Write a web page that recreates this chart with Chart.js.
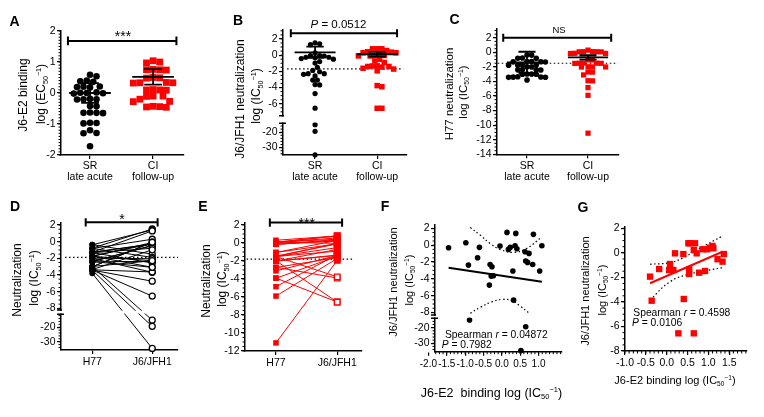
<!DOCTYPE html>
<html><head><meta charset="utf-8">
<script src="https://cdn.jsdelivr.net/npm/chart.js@4.4.1/dist/chart.umd.min.js"></script>
<style>
html,body{margin:0;padding:0;background:#fff;}
#wrap{position:relative;width:764px;height:417px;overflow:hidden;font-family:"Liberation Sans",Arial,Helvetica,sans-serif;color:#000;}
#wrap canvas{position:absolute;left:0;top:0;}
#txt{position:absolute;left:0;top:0;width:764px;height:417px;z-index:10;}
.t{position:absolute;white-space:nowrap;line-height:1;}
.lab{font-weight:bold;font-size:14px;transform:translate(-50%,-50%);}
.rot{transform:translate(-50%,-50%) rotate(-90deg);font-size:12px;}
.c{transform:translate(-50%,-50%);}
.cx{transform:translateX(-50%);}
.l{transform:translateY(-50%);}
.sb{font-size:0.6em;position:relative;top:0.35em;}
.sp{font-size:0.6em;position:relative;top:-0.6em;}
</style></head><body>
<div id="wrap">
<div id="txt">
<div class="t lab" style="left:14.5px;top:20.5px">A</div>
<div class="t lab" style="left:238px;top:19.5px">B</div>
<div class="t lab" style="left:454.5px;top:19px">C</div>
<div class="t lab" style="left:15px;top:206px">D</div>
<div class="t lab" style="left:203px;top:206px">E</div>
<div class="t lab" style="left:385px;top:206px">F</div>
<div class="t lab" style="left:583px;top:206.5px">G</div>

<div class="t rot" style="left:23px;top:95px">J6-E2 binding</div>
<div class="t rot" style="left:41px;top:94px">log (EC<span class="sb">50</span><span class="sp">−1</span>)</div>
<div class="t rot" style="left:240px;top:99px">J6/JFH1 neutralization</div>
<div class="t rot" style="left:256px;top:96px">log (IC<span class="sb">50</span><span class="sp">−1</span>)</div>
<div class="t rot" style="left:450px;top:94px;font-size:11.5px">H77 neutralization</div>
<div class="t rot" style="left:464px;top:92px;font-size:11.5px">log (IC<span class="sb">50</span><span class="sp">−1</span>)</div>
<div class="t rot" style="left:17px;top:280px">Neutralization</div>
<div class="t rot" style="left:34px;top:278px">log (IC<span class="sb">50</span><span class="sp">−1</span>)</div>
<div class="t rot" style="left:206px;top:281px">Neutralization</div>
<div class="t rot" style="left:222px;top:279px">log (IC<span class="sb">50</span><span class="sp">−1</span>)</div>
<div class="t rot" style="left:393px;top:282px;font-size:11px">J6/JFH1 neutralization</div>
<div class="t rot" style="left:408.5px;top:280px;font-size:11px">log (IC<span class="sb">50</span><span class="sp">−1</span>)</div>
<div class="t rot" style="left:585px;top:291px;font-size:11px">J6/JFH1 neutralization</div>
<div class="t rot" style="left:602px;top:290px;font-size:11px">log (IC<span class="sb">50</span><span class="sp">−1</span>)</div>

<div class="t c" style="left:491.5px;top:392.5px;font-size:12.5px">J6-E2&nbsp; binding log (IC<span class="sb">50</span><span class="sp">−1</span>)</div>
<div class="t c" style="left:675px;top:380px;font-size:11px">J6-E2 binding log (IC<span class="sb">50</span><span class="sp">−1</span>)</div>

<div class="t cx" style="left:123px;top:29.4px;font-size:14px">***</div>
<div class="t c" style="left:338.5px;top:25px;font-size:11.5px"><i>P</i> = 0.0512</div>
<div class="t c" style="left:559px;top:30px;font-size:9.5px">NS</div>
<div class="t cx" style="left:122px;top:211.6px;font-size:14px">*</div>
<div class="t cx" style="left:306.7px;top:216.4px;font-size:14px">***</div>

<div class="t l" style="left:445px;top:335px;font-size:10.3px">Spearman <i>r</i> = 0.04872</div>
<div class="t l" style="left:441.7px;top:345px;font-size:10.3px"><i>P</i> = 0.7982</div>
<div class="t l" style="left:633.3px;top:312.7px;font-size:10.3px">Spearman <i>r</i> = 0.4598</div>
<div class="t l" style="left:632px;top:323.3px;font-size:10.3px"><i>P</i> = 0.0106</div>
</div>
</div>
<script>
// ---------------- DATA ----------------
const catLabels = [['SR', 'late acute'], ['CI', 'follow-up']];
const pairLabels = ['H77', 'J6/JFH1'];

const yTicksA = [2, 1, 0, -1, -2];
const yTicksB = [2, 0, -2, -4, -6, -20, -30];
const yTicksC = [2, 0, -2, -4, -6, -8, -10, -12, -14];
const yTicksD = [2, 0, -2, -4, -6, -8, -20, -30];
const yTicksE = [2, 0, -2, -4, -6, -8, -10, -12];
const yTicksF = [2, 0, -2, -4, -6, -8, -20, -30];
const yTicksG = [2, 0, -2, -4, -6, -8];
const xTicksF = [-2.0, -1.5, -1.0, -0.5, 0.0, 0.5, 1.0];
const xTicksG = [-1.0, -0.5, 0.0, 0.5, 1.0, 1.5];

// A: J6-E2 binding log(EC50^-1)
const srBinding = [0.59, 0.54, 0.38, 0.36, 0.40, 0.20, 0.18, 0.19, 0.21, 0.00, 0.01, -0.01, 0.02, -0.02,
  -0.20, -0.19, -0.21, -0.20, -0.43, -0.42, -0.64, -0.63, -0.65, -0.64, -0.97, -0.98, -0.96, -1.20, -1.30, -1.29, -1.72];
const ciBinding = [1.04, 1.00, 0.97, 0.75, 0.76, 0.74, 0.75, 0.50, 0.49, 0.48, 0.33, 0.34, 0.32, 0.33,
  0.10, 0.11, 0.09, 0.10, -0.10, -0.10, -0.11, -0.27, -0.28, -0.43, -0.44, -0.45, -0.46, -0.20];

// SR subjects (same order in B, C, D, F)
const srJ6 = [-0.31, 0.29, -2.37, -0.26, -1.50, -2.29, -2.57, -3.68, -3.64, -4.75, -0.11, 1.52, -0.50, -0.26, -3.08,
  1.40, -0.07, -0.43, -0.79, -0.98, -1.89, -2.05, 1.29, -2.29, -3.08, -0.07, -6.54, -15.1, -19.4, -34.7];
const srH77 = [-1.28, -0.82, -2.42, -1.72, -0.36, -2.98, -1.31, -2.02, -3.38, -3.42, -1.77, -0.78, -2.38, -1.29, -1.74,
  -0.38, -3.02, -2.41, -1.33, -3.36, -0.81, -1.98, -1.27, -1.76, -2.39, -3.01, -3.41, -2.99, -3.44, -3.80];
const srBindingIC = [-1.45, -0.98, -0.91, -0.61, -0.66, -0.32, -0.27, -0.29, -0.23, -0.34, -0.05, 0.14, 0.18, 0.23, 0.30,
  0.38, 0.36, 0.41, 0.63, 0.74, 0.65, 0.70, 0.86, 0.84, 1.03, 1.09, 0.32, -0.88, 0.65, 0.52];

// CI subjects (same order in B, C, E, G)
const ciJ6 = [-1.94, -3.90, -1.32, -1.40, -0.91, -1.40, -0.04, -0.10, -3.76, 0.78, 0.78, -1.34, -1.72, 0.78,
  0.23, -0.04, -1.62, -6.56, -6.56, 0.29, -1.48, 0.29, 0.42, 0.56, 0.37, -0.52, -0.72, -0.10];
const ciH77 = [-11.1, -2.70, -4.85, -2.00, -1.50, -3.10, 0.08, -1.05, -1.52, 0.30, 0.07, -2.02, -5.90, 0.09,
  -0.15, -1.48, -2.72, -3.90, -1.98, -0.14, -3.92, -1.06, 0.08, 0.06, -0.16, -1.51, -2.01, -1.49];
const ciBindingIC = [-0.40, -0.36, -0.18, 0.06, 0.08, 0.16, 0.20, 0.40, 0.41, 0.52, 0.56, 0.54, 0.54, 0.68,
  0.65, 0.72, 0.78, 0.28, 0.65, 0.86, 0.92, 0.97, 1.04, 1.10, 1.12, 1.22, 1.34, 1.37];

// summary statistics (centre line and error bar half-length), cut-offs
const meanA = [0.00, 0.52], errA = [0.32, 0.25];
const meanB = [0.35, 0.11], errB = [0.70, 0.30];
const meanC = [-1.38, -0.70], errC = [1.46, 0.30];
const cutoffB = -1.7, cutoffC = -1.5, cutoffD = -1.88, cutoffE = -1.8;

// regression lines and 95% bands
const fitFx = [-1.45, 1.09], fitFy = [-2.69, -4.36];
const bandFupX = [-0.86, -0.59, -0.32, -0.05, 0.32, 0.68, 1.09], bandFupY = [2.1, 1.2, 0.21, -0.5, -0.86, -0.38, 1.0];
const bandFloX = [-0.86, -0.59, -0.27, 0.0, 0.27, 0.5, 0.72], bandFloY = [-8.1, -7.4, -6.74, -6.45, -6.6, -7.25, -8.0];
const fitGx = [-0.40, 1.34], fitGy = [-2.48, 0.09];
const bandGupX = [-0.40, 0.08, 0.40, 0.72, 1.34], bandGupY = [-0.93, -0.80, -0.40, 0.23, 1.37];
const bandGloX = [-0.40, 0.08, 0.56, 1.34], bandGloY = [-3.84, -2.35, -1.72, -1.21];

// ---------------- helpers ----------------
const W = 764, H = 417;
const FONT = '"Liberation Sans", Arial, Helvetica, sans-serif';
const RED = '#ff0000';
const ident = v => v;
function brokenT(U0, gapU, Lt, r) { return v => v >= U0 ? v : U0 - gapU - (Lt - v) * r; }

function seg(polys) {
  const out = [];
  polys.forEach((pl, i) => {
    if (i) out.push({ x: pl[0][0], y: null });
    pl.forEach(([x, y]) => out.push({ x, y }));
  });
  return out;
}
function lineDS(polys, color, width, dash, more) {
  return Object.assign({ data: seg(polys), showLine: true, spanGaps: false, borderColor: color, borderWidth: width,
    borderDash: dash || [], pointRadius: 0, pointHoverRadius: 0, fill: false, clip: false, tension: 0 }, more || {});
}
function ptsDS(pts, style, r, bg, bc, bw) {
  return { data: pts, showLine: false, pointStyle: style, pointRadius: r, pointHoverRadius: r,
    pointBackgroundColor: bg, backgroundColor: bg, pointBorderColor: bc, borderColor: bc,
    pointBorderWidth: bw, borderWidth: bw, clip: false };
}
function swarm(vals, center, pxX, pxY, d) {
  const order = vals.map((v, i) => i).sort((a, b) => vals[b] - vals[a]);
  const placed = [], xs = new Array(vals.length), step = d * 0.5;
  for (const i of order) {
    const py = vals[i] * pxY;
    let off = 0;
    for (let k = 0; k < 400; k++) {
      const cand = k === 0 ? 0 : (k % 2 ? 1 : -1) * Math.ceil(k / 2) * step;
      if (placed.every(p => (p.x - cand) ** 2 + (p.y - py) ** 2 >= d * d * 0.97)) { off = cand; break; }
    }
    placed.push({ x: off, y: py });
    xs[i] = center + off / pxX;
  }
  return xs;
}
function meanPolys(c, m, e) {
  return [[[c - 0.33, m], [c + 0.33, m]], [[c, m - e], [c, m + e]],
    [[c - 0.14, m + e], [c + 0.14, m + e]], [[c - 0.14, m - e], [c + 0.14, m - e]]];
}
function sigPolys(x1, x2, yb, h) {
  return [[[x1, yb - h], [x1, yb + h]], [[x1, yb], [x2, yb]], [[x2, yb - h], [x2, yb + h]]];
}
function range(lo, hi, st) { const o = []; const n = Math.round((hi - lo) / st); for (let i = 0; i <= n; i++) o.push(lo + i * st); return o; }

function makeChart(p, layers) {
  const cv = document.createElement('canvas');
  cv.width = W; cv.height = H; cv.style.width = W + 'px'; cv.style.height = H + 'px';
  document.getElementById('wrap').insertBefore(cv, document.getElementById('txt'));
  const a = p.area, T = p.T || ident;
  const deco = {
    id: 'deco',
    afterDraw(chart) {
      const ctx = chart.ctx, ca = chart.chartArea, xs = chart.scales.x, ys = chart.scales.y;
      ctx.save();
      ctx.strokeStyle = '#000'; ctx.lineWidth = 1;
      (p.minorY || []).forEach(([lo, hi, st]) => {
        range(lo, hi, st).forEach(v => {
          const py = ys.getPixelForValue(T(v));
          ctx.beginPath(); ctx.moveTo(ca.left - 2.5, py); ctx.lineTo(ca.left, py); ctx.stroke();
        });
      });
      if (p.minorX) {
        const [lo, hi, st] = p.minorX;
        range(lo, hi, st).forEach(v => {
          const px = xs.getPixelForValue(v);
          ctx.beginPath(); ctx.moveTo(px, ca.bottom); ctx.lineTo(px, ca.bottom + 2.5); ctx.stroke();
        });
      }
      if (p.gap) {
        const y1 = ys.getPixelForValue(p.gap.U0), y2 = ys.getPixelForValue(T(p.gap.Lt));
        ctx.fillStyle = '#fff';
        ctx.fillRect(ca.left - 8, y1 + 0.8, ca.right - ca.left + 10, y2 - y1 - 1.6);
        ctx.lineWidth = 1.5;
        ctx.beginPath();
        ctx.moveTo(ca.left - 4, y1); ctx.lineTo(ca.left + 1, y1);
        ctx.moveTo(ca.left - 4, y2); ctx.lineTo(ca.left + 3, y2);
        ctx.stroke();
      }
      ctx.restore();
    }
  };
  const gridOpt = { display: true, drawOnChartArea: false, drawTicks: true, tickLength: 4, color: '#000', lineWidth: 1.2 };
  const borderOpt = { display: true, color: '#000', width: 1.5 };
  return new Chart(cv, {
    type: 'scatter',
    data: { datasets: layers.slice().reverse() },
    options: {
      responsive: false, animation: false, events: [], devicePixelRatio: 1,
      layout: { padding: { left: a.l - 45, top: a.t, right: W - a.r, bottom: H - a.b - 40 } },
      plugins: { legend: { display: false }, tooltip: { enabled: false } },
      scales: {
        x: {
          type: 'linear', position: 'bottom', min: p.xMin, max: p.xMax, bounds: 'data',
          afterFit: s => { s.height = 40; },
          afterBuildTicks: s => { s.ticks = p.xTicks.map(v => ({ value: v })); },
          ticks: { autoSkip: false, maxRotation: 0, minRotation: 0, color: '#000', padding: p.xPad || 2,
            font: { family: FONT, size: p.xFont || 10.5, lineHeight: 1.05 }, callback: (v, i) => p.xLabels[i] },
          grid: gridOpt, border: borderOpt
        },
        y: {
          type: 'linear', position: 'left', min: p.yMin, max: p.yMax, bounds: 'data',
          afterFit: s => { s.width = 45; },
          afterBuildTicks: s => { s.ticks = p.yTicks.map(v => ({ value: T(v) })); },
          ticks: { autoSkip: false, color: '#000', padding: 1.5, font: { family: FONT, size: 10.5 },
            callback: (v, i) => String(p.yTicks[i]) },
          grid: gridOpt, border: borderOpt
        }
      }
    },
    plugins: [deco]
  });
}
function factors(p) {
  return { pxX: (p.area.r - p.area.l) / (p.xMax - p.xMin), pxY: (p.area.b - p.area.t) / (p.yMax - p.yMin) };
}

// ---------------- Panel A ----------------
(function () {
  const p = { area: { l: 61, t: 31, r: 184, b: 155 }, xMin: 0.54, xMax: 2.49, yMin: -2, yMax: 2,
    xTicks: [1, 2], xLabels: catLabels, yTicks: yTicksA, minorY: [[-2, 2, 0.1]] };
  const f = factors(p);
  const xs1 = swarm(srBinding, 1, f.pxX, f.pxY, 6.5), xs2 = swarm(ciBinding, 2, f.pxX, f.pxY, 6.6);
  makeChart(p, [
    lineDS(sigPolys(0.65, 2.37, 1.68, 0.14), '#000', 2),
    ptsDS(srBinding.map((v, i) => ({ x: xs1[i], y: v })), 'circle', 3.3, '#000', '#000', 0),
    ptsDS(ciBinding.map((v, i) => ({ x: xs2[i], y: v })), 'rect', 4.8, RED, RED, 0),
    lineDS(meanPolys(1, meanA[0], errA[0]).concat(meanPolys(2, meanA[1], errA[1])), '#000', 1.8)
  ]);
})();

// ---------------- Panel B ----------------
(function () {
  const T = brokenT(-7.47, 0.94, -14.2, 0.19);
  const p = { area: { l: 283, t: 30, r: 407, b: 155 }, xMin: 0.484, xMax: 2.48, yMin: T(-34.8), yMax: 3.1, T,
    xTicks: [1, 2], xLabels: catLabels, yTicks: yTicksB, gap: { U0: -7.47, Lt: -14.2 },
    minorY: [[-7, 3, 0.5], [-34, -16, 2]] };
  const f = factors(p);
  const v1 = srJ6.map(T), v2 = ciJ6.map(T);
  const xs1 = swarm(v1, 1, f.pxX, f.pxY, 4.6), xs2 = swarm(v2, 2, f.pxX, f.pxY, 4.7);
  makeChart(p, [
    lineDS(sigPolys(0.61, 2.32, 2.7, 0.5), '#000', 2),
    lineDS([[[0.55, cutoffB], [2.42, cutoffB]]], '#000', 1.2, [1.5, 2.5]),
    ptsDS(v1.map((v, i) => ({ x: xs1[i], y: v })), 'circle', 2.6, '#000', '#000', 0),
    ptsDS(v2.map((v, i) => ({ x: xs2[i], y: v })), 'rect', 3.9, RED, RED, 0),
    lineDS(meanPolys(1, meanB[0], errB[0]).concat(meanPolys(2, meanB[1], errB[1])), '#000', 1.8)
  ]);
})();

// ---------------- Panel C ----------------
(function () {
  const p = { area: { l: 497, t: 29, r: 619, b: 154.3 }, xMin: 0.508, xMax: 2.508, yMin: -14, yMax: 3.2,
    xTicks: [1, 2], xLabels: catLabels, yTicks: yTicksC, minorY: [[-14, 3, 0.5]] };
  const f = factors(p);
  const xs1 = swarm(srH77, 1, f.pxX, f.pxY, 4.6), xs2 = swarm(ciH77, 2, f.pxX, f.pxY, 4.4);
  makeChart(p, [
    lineDS(sigPolys(0.61, 2.38, 2.0, 0.55), '#000', 2),
    lineDS([[[0.52, cutoffC], [2.49, cutoffC]]], '#000', 1.2, [1.5, 2.5]),
    ptsDS(srH77.map((v, i) => ({ x: xs1[i], y: v })), 'circle', 2.8, '#000', '#000', 0),
    ptsDS(ciH77.map((v, i) => ({ x: xs2[i], y: v })), 'rect', 3.7, RED, RED, 0),
    lineDS(meanPolys(1, meanC[0], errC[0]).concat(meanPolys(2, meanC[1], errC[1])), '#000', 1.8)
  ]);
})();

// ---------------- Panel D ----------------
(function () {
  const T = brokenT(-8.2, 0.52, -11.0, 0.173);
  const p = { area: { l: 61, t: 223, r: 178, b: 350 }, xMin: 0.478, xMax: 2.43, yMin: T(-35.8), yMax: 2.24, T,
    xTicks: [1, 2], xLabels: pairLabels, xPad: 3, yTicks: yTicksD, gap: { U0: -8.2, Lt: -11.0 },
    minorY: [[-8, 2, 0.5], [-34, -12, 2]] };
  const pairs = srH77.map((h, i) => [[1, T(h)], [2, T(srJ6[i])]]);
  makeChart(p, [
    lineDS(sigPolys(0.89, 2.09, 2.32, 0.5), '#000', 2),
    lineDS([[[0.545, cutoffD], [2.43, cutoffD]]], '#000', 1.2, [1.5, 2.5]),
    lineDS(pairs, '#000', 1),
    ptsDS(srH77.map(v => ({ x: 1, y: T(v) })), 'circle', 3, '#000', '#000', 0),
    ptsDS(srJ6.map(v => ({ x: 2, y: T(v) })), 'circle', 3, '#fff', '#000', 1.3)
  ]);
})();

// ---------------- Panel E ----------------
(function () {
  const p = { area: { l: 245, t: 222.7, r: 361.7, b: 351 }, xMin: 0.494, xMax: 2.40, yMin: -12, yMax: 2.25,
    xTicks: [1, 2], xLabels: pairLabels, xPad: 3, yTicks: yTicksE, minorY: [[-12, 2, 0.5]] };
  const pairs = ciH77.map((h, i) => [[1, h], [2, ciJ6[i]]]);
  const right = ptsDS(ciJ6.map(v => ({ x: 2, y: v })), 'rect', 3.9, RED, RED, 1.3);
  right.pointBackgroundColor = c => (c.raw && c.raw.y < -3) ? '#fff' : RED;
  makeChart(p, [
    lineDS(sigPolys(0.9, 2.08, 2.26, 0.45), '#000', 2),
    lineDS([[[0.52, cutoffE], [2.26, cutoffE]]], '#000', 1.2, [1.5, 2.5]),
    lineDS(pairs, RED, 1),
    ptsDS(ciH77.map(v => ({ x: 1, y: v })), 'rect', 3.9, RED, RED, 0),
    right
  ]);
})();

// ---------------- Panel F ----------------
(function () {
  const T = brokenT(-8.3, 0.39, -14.0, 0.186);
  const p = { area: { l: 435, t: 225, r: 561.7, b: 351.7 }, xMin: -1.82, xMax: 1.63, yMin: T(-35.4), yMax: 2.4, T,
    xTicks: xTicksF, xLabels: xTicksF.map(v => v.toFixed(1)), xPad: 3, xFont: 10, yTicks: yTicksF,
    gap: { U0: -8.3, Lt: -14.0 }, minorY: [[-8, 2, 0.5], [-34, -14, 2]], minorX: [-1.8, 1.6, 0.1] };
  const band = (xs, ys) => [xs.map((x, i) => [x, ys[i]])];
  makeChart(p, [
    lineDS(band(bandFupX, bandFupY), '#000', 1.2, [1.5, 2.5], { tension: 0.4, clip: true }),
    lineDS(band(bandFloX, bandFloY), '#000', 1.2, [1.5, 2.5], { tension: 0.4, clip: true }),
    lineDS([[[fitFx[0], fitFy[0]], [fitFx[1], fitFy[1]]]], '#000', 2),
    ptsDS(srBindingIC.map((x, i) => ({ x, y: T(srJ6[i]) })), 'circle', 2.8, '#000', '#000', 0)
  ]);
})();

// ---------------- Panel G ----------------
(function () {
  const p = { area: { l: 625, t: 226.7, r: 746.7, b: 351 }, xMin: -1, xMax: 1.92, yMin: -8, yMax: 2.13,
    xTicks: xTicksG, xLabels: xTicksG.map(v => v.toFixed(1)), xPad: 3, yTicks: yTicksG,
    minorY: [[-8, 2, 0.5]], minorX: [-1, 1.9, 0.1] };
  const band = (xs, ys) => [xs.map((x, i) => [x, ys[i]])];
  makeChart(p, [
    lineDS(band(bandGupX, bandGupY), '#000', 1.2, [1.5, 2.5], { tension: 0.4 }),
    lineDS(band(bandGloX, bandGloY), '#000', 1.2, [1.5, 2.5], { tension: 0.4 }),
    ptsDS(ciBindingIC.map((x, i) => ({ x, y: ciJ6[i] })), 'rect', 4.5, RED, RED, 0),
    lineDS([[[fitGx[0], fitGy[0]], [fitGx[1], fitGy[1]]]], RED, 2)
  ]);
})();
</script>
</body></html>
